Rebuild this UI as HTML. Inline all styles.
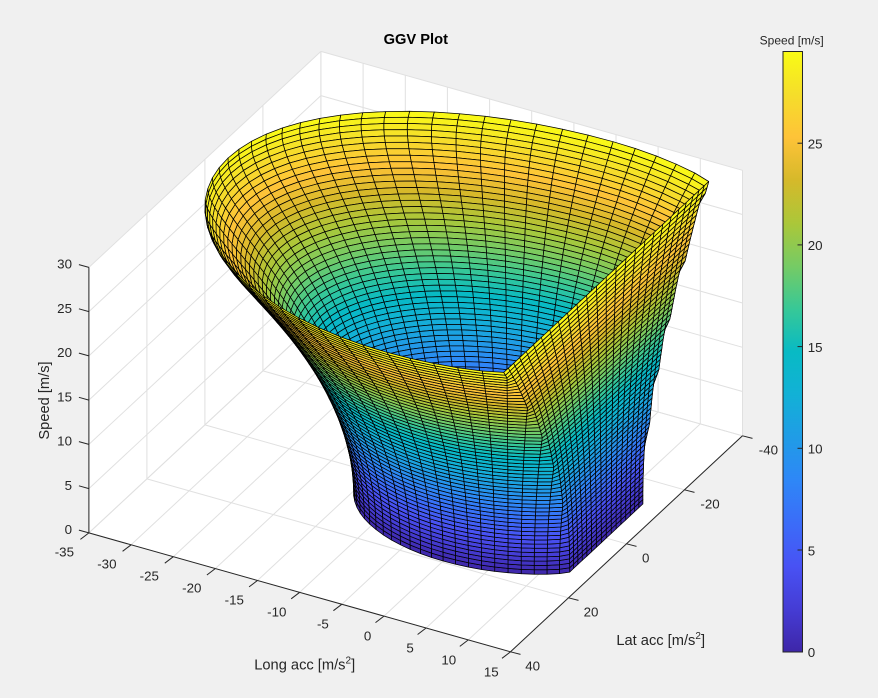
<!DOCTYPE html>
<html><head><meta charset="utf-8">
<style>
html,body{margin:0;padding:0;background:#f0f0f0;}
#c{position:relative;width:878px;height:698px;overflow:hidden;background:#f0f0f0;}
svg{position:absolute;left:0;top:0;}
text{font-family:"Liberation Sans",Arial,sans-serif;fill:#262626;}
</style></head><body>
<div id="c">
<svg id="s" width="878" height="698" viewBox="0 0 878 698">
<defs>
<linearGradient id="pg" x1="0" y1="1" x2="0" y2="0">
<stop offset="0" stop-color="rgb(62,38,168)"/>
<stop offset="0.07" stop-color="rgb(69,60,212)"/>
<stop offset="0.143" stop-color="rgb(72,82,244)"/>
<stop offset="0.214" stop-color="rgb(59,108,248)"/>
<stop offset="0.286" stop-color="rgb(46,135,247)"/>
<stop offset="0.357" stop-color="rgb(32,156,230)"/>
<stop offset="0.429" stop-color="rgb(18,177,214)"/>
<stop offset="0.5" stop-color="rgb(8,186,196)"/>
<stop offset="0.571" stop-color="rgb(55,200,151)"/>
<stop offset="0.643" stop-color="rgb(118,203,100)"/>
<stop offset="0.714" stop-color="rgb(171,199,57)"/>
<stop offset="0.786" stop-color="rgb(214,185,42)"/>
<stop offset="0.857" stop-color="rgb(254,195,56)"/>
<stop offset="0.929" stop-color="rgb(245,222,42)"/>
<stop offset="1" stop-color="rgb(249,251,21)"/>
</linearGradient>
</defs>
<g id="bg"></g>
<g id="grid"></g>
<g id="surf" stroke="#000" stroke-width="0.75" stroke-linejoin="round"></g>
<g id="axes"></g>

<text x="415.8" y="44" text-anchor="middle" font-size="14.67" font-weight="bold" style="fill:#000">GGV Plot</text>

<g font-size="13.33" text-anchor="end">
<text x="72" y="534.2">0</text>
<text x="72" y="489.9">5</text>
<text x="72" y="445.7">10</text>
<text x="72" y="401.4">15</text>
<text x="72" y="357.2">20</text>
<text x="72" y="312.9">25</text>
<text x="72" y="268.7">30</text>
</g>

<g font-size="13.33" text-anchor="end">
<text x="74" y="556.4">-35</text>
<text x="116.5" y="568.4">-30</text>
<text x="158.9" y="580.4">-25</text>
<text x="201.4" y="592.4">-20</text>
<text x="243.9" y="604.4">-15</text>
<text x="286.4" y="616.4">-10</text>
<text x="328.8" y="628.4">-5</text>
<text x="371.3" y="640.4">0</text>
<text x="413.8" y="652.4">5</text>
<text x="456.2" y="664.4">10</text>
<text x="498.7" y="676.4">15</text>
</g>

<g font-size="13.33" text-anchor="start">
<text x="758.8" y="454.7">-40</text>
<text x="700.4" y="508.6">-20</text>
<text x="642" y="562.5">0</text>
<text x="583.6" y="616.4">20</text>
<text x="525.2" y="670.3">40</text>
</g>

<text transform="translate(48.8,400.5) rotate(-90)" text-anchor="middle" font-size="14.67">Speed [m/s]</text>
<text x="304.7" y="669.5" text-anchor="middle" font-size="14.67">Long acc [m/s<tspan font-size="10" dy="-6">2</tspan><tspan dy="6">]</tspan></text>
<text x="660.7" y="645" text-anchor="middle" font-size="14.67">Lat acc [m/s<tspan font-size="10" dy="-6">2</tspan><tspan dy="6">]</tspan></text>

<rect x="783" y="51.5" width="19.5" height="600.5" fill="url(#pg)" stroke="#262626" stroke-width="1"/>
<g stroke="#262626" stroke-width="1">
<line x1="797.5" y1="550" x2="802.5" y2="550"/>
<line x1="797.5" y1="448.3" x2="802.5" y2="448.3"/>
<line x1="797.5" y1="346.6" x2="802.5" y2="346.6"/>
<line x1="797.5" y1="244.9" x2="802.5" y2="244.9"/>
<line x1="797.5" y1="143.2" x2="802.5" y2="143.2"/>
</g>
<g font-size="13.33" text-anchor="start">
<text x="807.7" y="657">0</text>
<text x="807.7" y="555.3">5</text>
<text x="807.7" y="453.6">10</text>
<text x="807.7" y="351.9">15</text>
<text x="807.7" y="250.2">20</text>
<text x="807.7" y="148.5">25</text>
</g>
<text x="791.7" y="44.3" text-anchor="middle" font-size="12">Speed [m/s]</text>
</svg>
</div>
<script>
(function(){
var O=[500.0,508.1],EX=[8.43,2.378],EY=[-2.90,2.70],EZ=[0,-8.85];
function P(x,y,z){return [O[0]+x*EX[0]+y*EY[0]+z*EZ[0], O[1]+x*EX[1]+y*EY[1]+z*EZ[1]];}
function f(v){return v.toFixed(1);}
function pts(a){return a.map(function(p){return f(p[0])+','+f(p[1]);}).join(' ');}
function L(a,b,col,w){return '<line x1="'+f(a[0])+'" y1="'+f(a[1])+'" x2="'+f(b[0])+'" y2="'+f(b[1])+'" stroke="'+col+'" stroke-width="'+w+'"/>';}

document.getElementById('bg').innerHTML='<polygon points="'+pts([P(-35,40,30),P(-35,-40,30),P(15,-40,30),P(15,-40,0),P(15,40,0),P(-35,40,0)])+'" fill="#fff"/>';

var GC='#e0e0e0',g='',x,y,z,p;
for(x=-35;x<=15;x+=5){g+=L(P(x,-40,0),P(x,40,0),GC,1);g+=L(P(x,-40,0),P(x,-40,30),GC,1);}
for(y=-40;y<=40;y+=20){g+=L(P(-35,y,0),P(15,y,0),GC,1);g+=L(P(-35,y,0),P(-35,y,30),GC,1);}
for(z=0;z<=30;z+=5){g+=L(P(-35,-40,z),P(15,-40,z),GC,1);g+=L(P(-35,-40,z),P(-35,40,z),GC,1);}
document.getElementById('grid').innerHTML=g;

var AC='#262626',ax='';
ax+=L(P(-35,40,0),P(-35,40,30),AC,1);
ax+=L(P(-35,40,0),P(15,40,0),AC,1);
ax+=L(P(15,40,0),P(15,-40,0),AC,1);
for(z=0;z<=30;z+=5){p=P(-35,40,z);ax+=L(p,[p[0]-10,p[1]-2.8],AC,1);}
for(x=-35;x<=15;x+=5){p=P(x,40,0);ax+=L(p,[p[0]-8.5,p[1]+6.5],AC,1);}
for(y=-40;y<=40;y+=20){p=P(15,y,0);ax+=L(p,[p[0]+10,p[1]+2.6],AC,1);}
document.getElementById('axes').innerHTML=ax;

var ST=[[0,62,38,168],[0.07,69,60,212],[0.143,72,82,244],[0.214,59,108,248],[0.286,46,135,247],[0.357,32,156,230],[0.429,18,177,214],[0.5,8,186,196],[0.571,55,200,151],[0.643,118,203,100],[0.714,171,199,57],[0.786,214,185,42],[0.857,254,195,56],[0.929,245,222,42],[1,249,251,21]];
function cmap(t){t=Math.max(0,Math.min(1,t));for(var k=1;k<ST.length;k++){if(t<=ST[k][0]){var a=ST[k-1],b=ST[k],u=(t-a[0])/(b[0]-a[0]);return 'rgb('+Math.round(a[1]+(b[1]-a[1])*u)+','+Math.round(a[2]+(b[2]-a[2])*u)+','+Math.round(a[3]+(b[3]-a[3])*u)+')';}}return 'rgb(249,251,21)';}

var NZ=60,NT=72,XC=12.6,ZM=29.5;
function Am(z){var s=z/ZM;return 16+0.0236*z*z*(1-0.15*Math.pow(s,12));}
function Ap(z){return 16.7+0.0161*z*z;}
function Bf(z){return 19.6+0.0223*z*z;}
var G=[],i,j;
for(i=0;i<NZ;i++){z=i*0.5;var row=[];var q2=(z/ZM)*(z/ZM);
 for(j=0;j<=NT;j++){var th=2*Math.PI*j/NT,c=Math.cos(th),s=Math.sin(th),X,Y;
  if(c<0){X=Am(z)*c;Y=Bf(z)*s-3.5*q2*c*c;}
  else{X=Math.min(Ap(z)*c,XC);Y=Bf(z)*s;}
  row.push([X,Y,z]);}
 G.push(row);}
var D=[25.67,74.61,29.66],Q=[];
for(i=0;i<NZ-1;i++)for(j=0;j<NT;j++){
 var v=[G[i][j],G[i][j+1],G[i+1][j+1],G[i+1][j]];
 var cx=0,cy=0,cz=0;for(var k=0;k<4;k++){cx+=v[k][0];cy+=v[k][1];cz+=v[k][2];}
 Q.push([D[0]*cx+D[1]*cy+D[2]*cz,v,(v[0][2]+v[3][2])/2]);}
Q.sort(function(a,b){return a[0]-b[0];});
var out='';
for(i=0;i<Q.length;i++){var q=Q[i];
 out+='<polygon points="'+pts(q[1].map(function(w){return P(w[0],w[1],w[2]);}))+'" fill="'+cmap(q[2]/ZM)+'"/>';}
document.getElementById('surf').innerHTML=out;
})();
</script>
</body></html>
